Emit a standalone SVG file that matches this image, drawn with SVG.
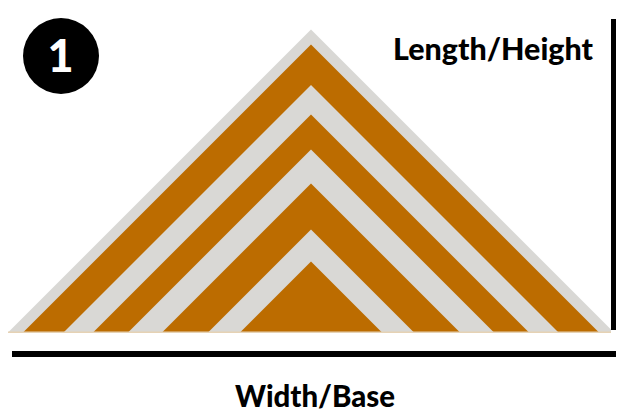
<svg xmlns="http://www.w3.org/2000/svg" width="629" height="420" viewBox="0 0 629 420">
<style>
.g{fill:#D9D8D5}
.o{fill:#BC6C00}
.lbl{font-family:Lato,"Liberation Sans",sans-serif;font-weight:900;fill:#000}
</style>
<rect width="629" height="420" fill="#fff"/>
<g id="triangles">
<polygon class="g" points="8,332.5 311,29.5 611,329.5 611,332.5"/>
<polygon class="o" points="23,332.5 311,44.5 599,332.5"/>
<polygon class="g" points="63.5,332.5 311,85 558.5,332.5"/>
<polygon class="o" points="93,332.5 311,114.5 529,332.5"/>
<polygon class="g" points="128,332.5 311,149.5 494,332.5"/>
<polygon class="o" points="162,332.5 311,183.5 460,332.5"/>
<polygon class="g" points="208,332.5 311,229.5 414,332.5"/>
<polygon class="o" points="240,332.5 311,261.5 382,332.5"/>
<rect x="8" y="331.5" width="603" height="1.5" fill="#E6D2B4"/>
</g>
<g id="badge">
<circle cx="61" cy="56" r="38" fill="#000"/>
<text x="60.5" y="71.5" text-anchor="middle" font-family="Lato,'Liberation Sans',sans-serif" font-weight="900" font-size="45" fill="#fff">1</text>
</g>
<g id="height-axis">
<rect x="611" y="19" width="5" height="311" fill="#000"/>
<text class="lbl" x="393" y="60" font-size="30" textLength="200" lengthAdjust="spacingAndGlyphs">Length/Height</text>
</g>
<g id="base-axis">
<rect x="12" y="351" width="604" height="6" fill="#000"/>
<text class="lbl" x="235" y="406.5" font-size="30" textLength="160" lengthAdjust="spacingAndGlyphs">Width/Base</text>
</g>
</svg>
